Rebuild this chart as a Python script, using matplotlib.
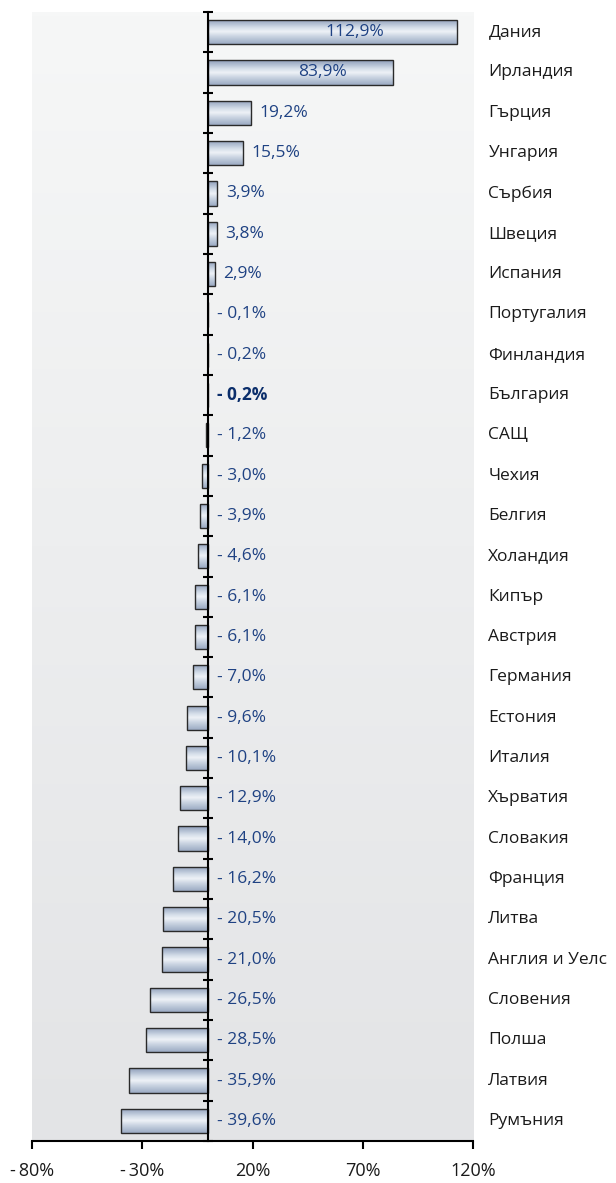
import matplotlib.pyplot as plt
import numpy as np
from matplotlib.colors import LinearSegmentedColormap

plt.rcParams['font.family'] = ['Open Sans', 'DejaVu Sans']

countries = ['Дания', 'Ирландия', 'Гърция', 'Унгария', 'Сърбия', 'Швеция',
             'Испания', 'Португалия', 'Финландия', 'България', 'САЩ', 'Чехия',
             'Белгия', 'Холандия', 'Кипър', 'Австрия', 'Германия', 'Естония',
             'Италия', 'Хърватия', 'Словакия', 'Франция', 'Литва',
             'Англия и Уелс', 'Словения', 'Полша', 'Латвия', 'Румъния']
values = [112.9, 83.9, 19.2, 15.5, 3.9, 3.8, 2.9, -0.1, -0.2, -0.2, -1.2,
          -3.0, -3.9, -4.6, -6.1, -6.1, -7.0, -9.6, -10.1, -12.9, -14.0,
          -16.2, -20.5, -21.0, -26.5, -28.5, -35.9, -39.6]
xticks = [-80, -30, 20, 70, 120]
xlabels = ['-\u200980%', '-\u200930%', '20%', '70%', '120%']
highlight = 'България'


def fmt(v):
    s = ('%.1f' % abs(v)).replace('.', ',') + '%'
    return '- ' + s if v < 0 else s


fig = plt.figure(figsize=(6.16, 11.83), dpi=100)
ax = fig.add_axes([32 / 616, 1 - 1141 / 1183, 441 / 616, 1129 / 1183])

n = len(values)
y = np.arange(n)
ax.set_xlim(-80, 120)
ax.set_ylim(n - 0.5, -0.5)

# background gradient
bg = LinearSegmentedColormap.from_list('bg', ['#f6f7f7', '#e3e4e6'])
ax.imshow(np.linspace(0, 1, 256).reshape(-1, 1), cmap=bg, aspect='auto',
          extent=(-80, 120, n - 0.5, -0.5), zorder=0)

# bars with cylinder shading
bars = ax.barh(y, values, height=0.6, facecolor='none', edgecolor='#2a2a2a',
               linewidth=1.0, zorder=3)
shade = LinearSegmentedColormap.from_list(
    'sh', [(0, '#8e9eba'), (0.35, '#d6dfea'), (0.5, '#eef2f7'),
           (0.7, '#c9d3e1'), (1, '#9cabc3')])
grad = np.linspace(0, 1, 64).reshape(-1, 1)
for b in bars:
    x0, w = b.get_x(), b.get_width()
    y0, h = b.get_y(), b.get_height()
    im = ax.imshow(grad, cmap=shade, aspect='auto', zorder=2,
                   extent=(min(x0, x0 + w), max(x0, x0 + w), y0 + h, y0))
    im.set_clip_path(b)

ax.set_xlim(-80, 120)
ax.set_ylim(n - 0.5, -0.5)

# value labels
for yi, v, c in zip(y, values, countries):
    bold = c == highlight
    col = '#0b2e6b' if bold else '#1f4283'
    if v > 50:
        ax.text(v / 2 + 10, yi, fmt(v), ha='center', va='center',
                fontsize=12.5, color=col, zorder=4)
    else:
        ax.text(max(v, 0) + 4, yi, fmt(v), ha='left', va='center',
                fontsize=12.5, color=col, zorder=4,
                fontweight='bold' if bold else 'normal')
    ax.text(127, yi, c, ha='left', va='center', fontsize=12.5,
            color='#1a1a1a', clip_on=False)

# axes styling
for s in ['top', 'right']:
    ax.spines[s].set_visible(False)
ax.spines['left'].set_position(('data', 0))
ax.spines['left'].set_zorder(5)
ax.spines['left'].set_linewidth(1.5)
ax.spines['bottom'].set_linewidth(1.5)
ax.set_yticks(np.arange(-0.5, n, 1))
ax.set_yticklabels([])
ax.tick_params(axis='y', direction='inout', length=7, width=1.5)
ax.set_xticks(xticks)
ax.set_xticklabels(xlabels, fontsize=13, color='#1a1a1a')
ax.tick_params(axis='x', direction='out', length=6, width=1.5, pad=9)

fig.savefig('out.png', dpi=100)
